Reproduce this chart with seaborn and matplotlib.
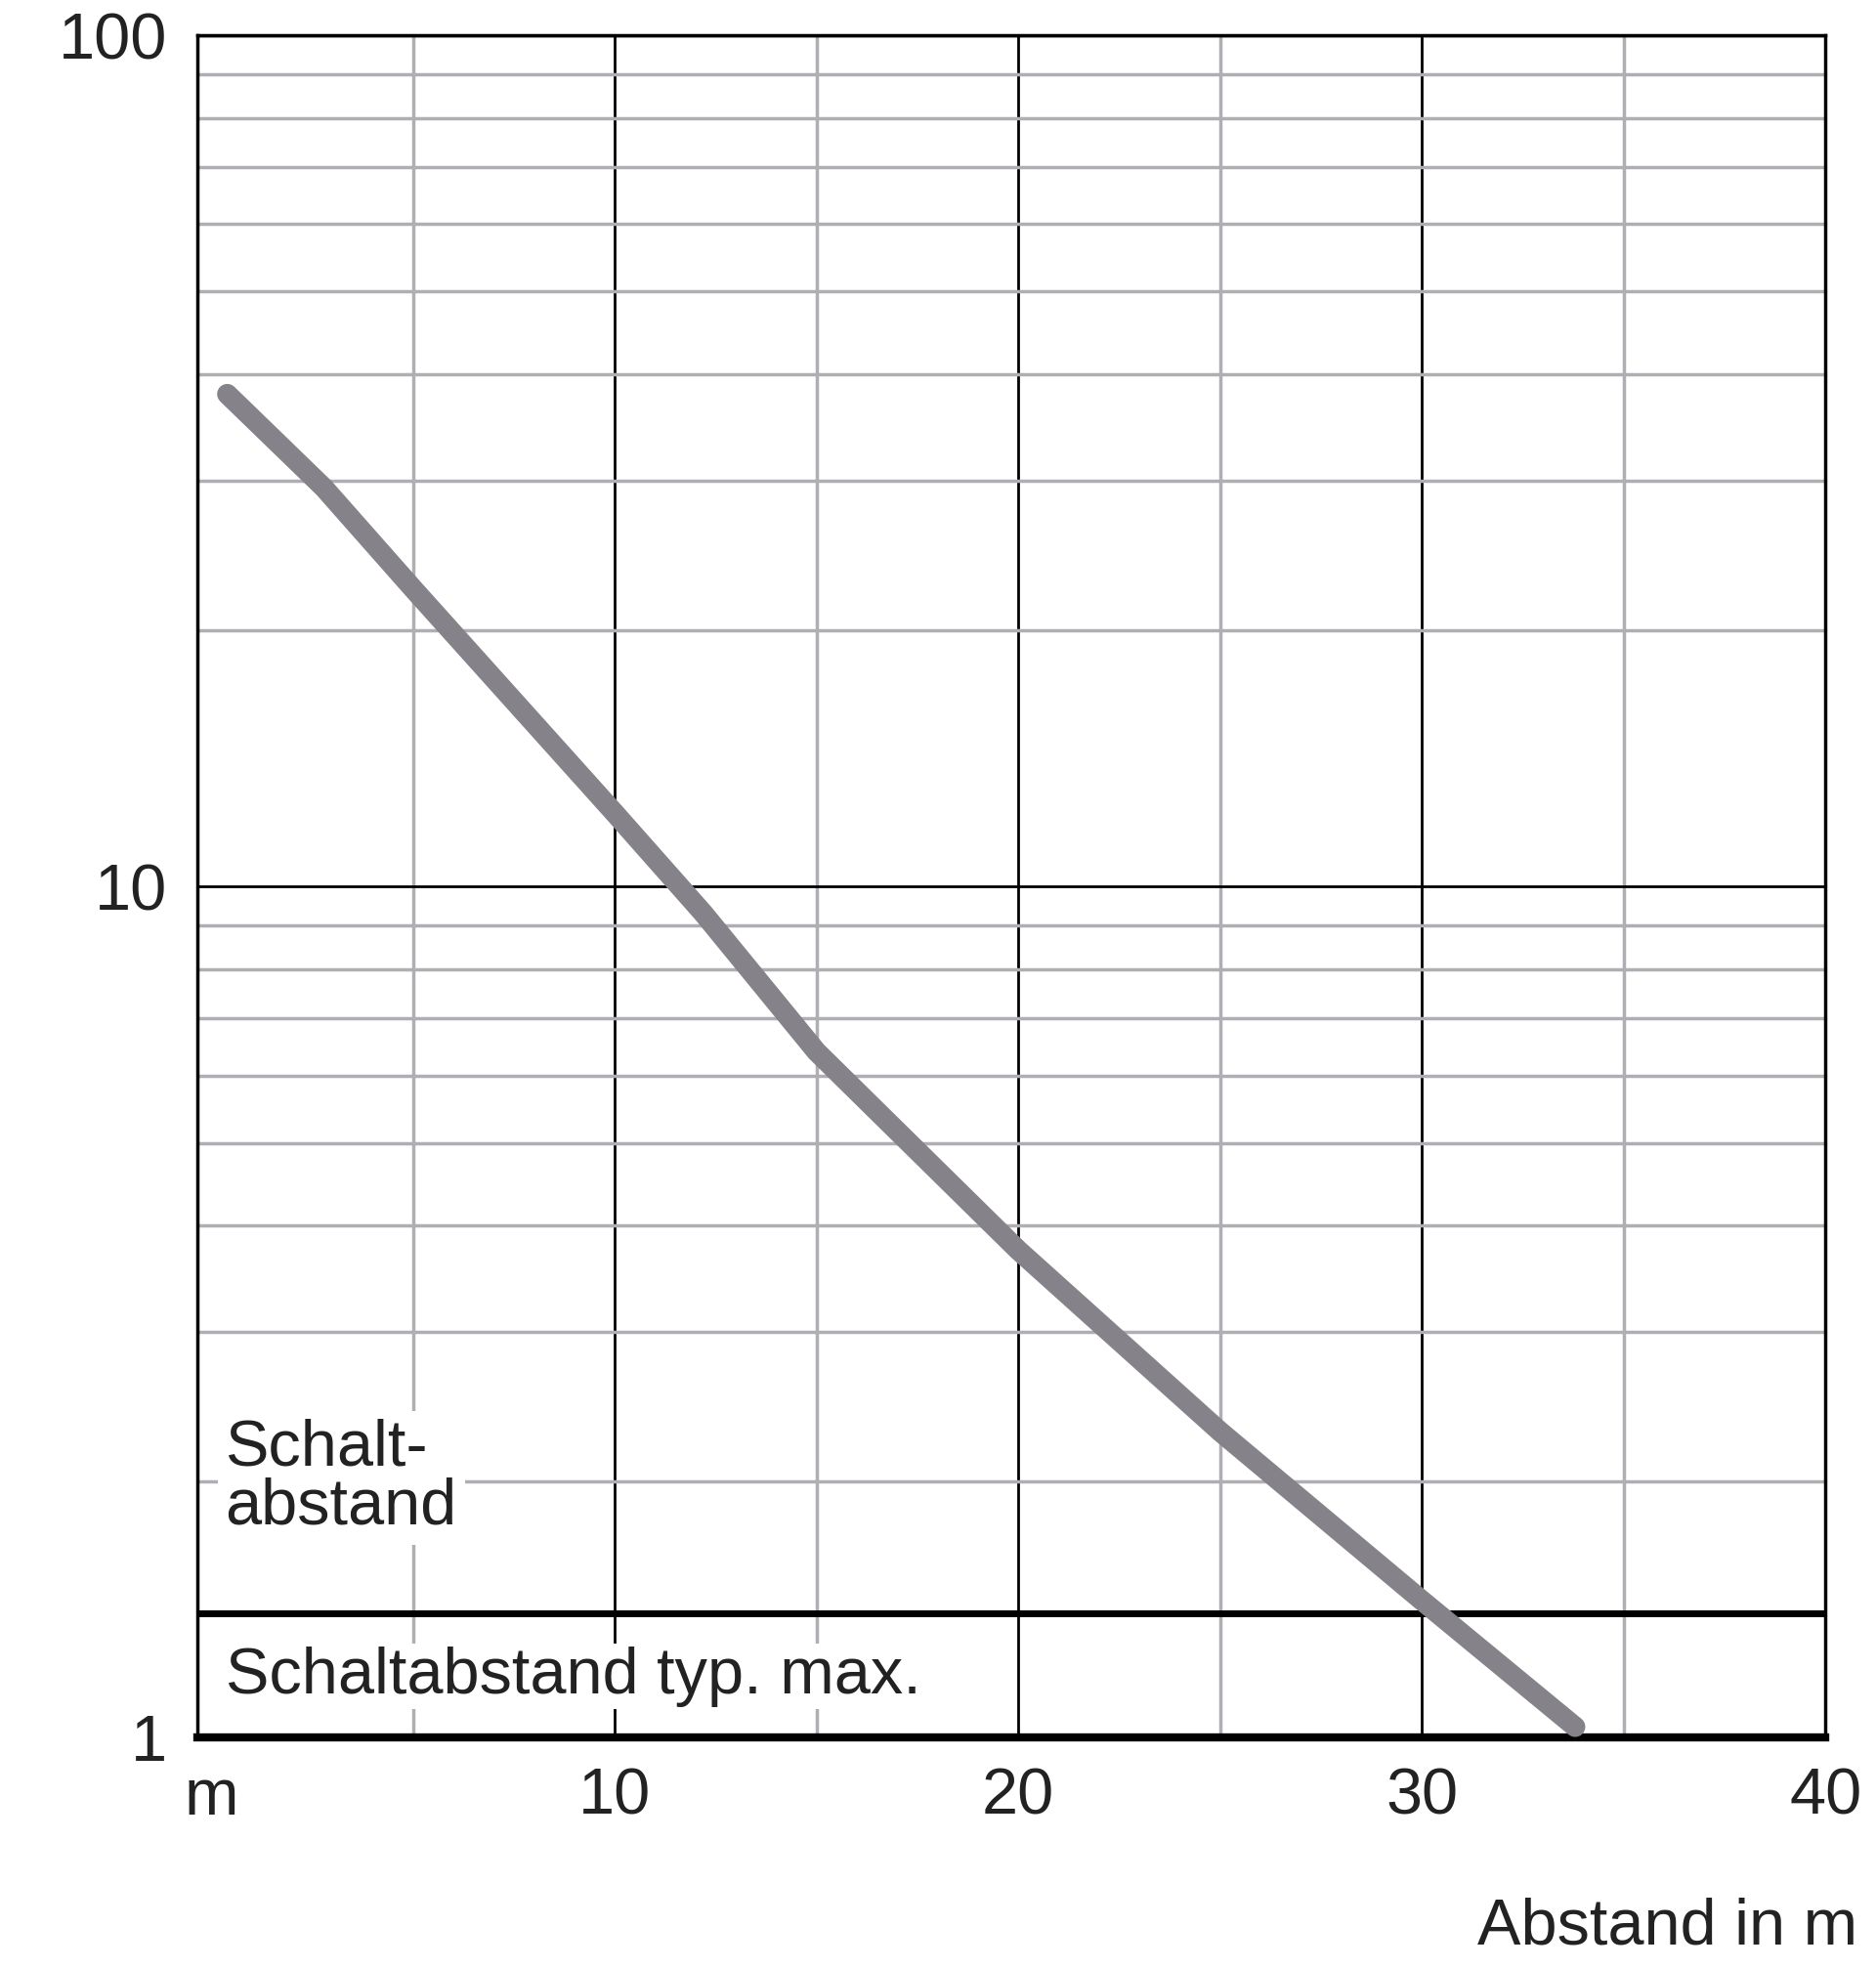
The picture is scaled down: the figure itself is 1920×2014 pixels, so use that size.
import matplotlib
matplotlib.use("Agg")
import matplotlib.pyplot as plt
import numpy as np
import pandas as pd
import seaborn as sns

# values
distance_m = [0.4, 2.8, 5.0, 10.0, 12.2, 15.0, 20.0, 25.0, 30.0, 33.8]
signal = [37.9, 29.4, 22.4, 12.2, 9.3, 6.4, 3.74, 2.29, 1.45, 1.03]
x_ticks = [0, 10, 20, 30, 40]
x_tick_labels = ["m", "10", "20", "30", "40"]
y_ticks = [1, 10, 100]
y_tick_labels = ["1", "10", "100"]
typ_max_level = 1.4

sns.set_style("white")
plt.rcParams["font.family"] = ["Liberation Sans", "DejaVu Sans"]

fig = plt.figure(figsize=(19.2, 20.14), dpi=100)
ax = fig.add_axes([0.105, 0.117, 0.868, 0.865])
ax.set_yscale("log")
ax.set_xlim(-0.35, 40)
ax.set_ylim(1, 100)

# grid
for v in [5, 15, 25, 35]:
    ax.axvline(v, color="#b0aeb3", lw=2.5, zorder=1)
for v in [10, 20, 30]:
    ax.axvline(v, color="black", lw=2, zorder=1)
for d in [1, 10]:
    for m in range(2, 10):
        ax.axhline(d * m, color="#b0aeb3", lw=2.5, zorder=1)
ax.axhline(10, color="black", lw=2, zorder=1)
ax.axhline(100, color="black", lw=2.5, zorder=1)
ax.axhline(typ_max_level, color="black", lw=5, zorder=3)

df = pd.DataFrame({"Abstand": distance_m, "Signal": signal})
sns.lineplot(data=df, x="Abstand", y="Signal", ax=ax, color="#858389",
             lw=15, solid_capstyle="round", zorder=4)

for s in ["left", "right", "top"]:
    ax.spines[s].set_linewidth(2.5)
    ax.spines[s].set_color("black")
ax.spines["bottom"].set_linewidth(6)
ax.spines["bottom"].set_color("black")

ax.set_xticks(x_ticks)
ax.set_xticklabels(x_tick_labels)
ax.set_yticks(y_ticks)
ax.set_yticklabels(y_tick_labels)
ax.yaxis.set_minor_locator(matplotlib.ticker.NullLocator())
ax.tick_params(axis="both", length=0, labelsize=48, colors="#222222", pad=22)
ax.set_xlabel("")
ax.set_ylabel("")

ax.text(0.35, 1.72, "Schalt-\nabstand", fontsize=48, color="#222222",
        va="bottom", ha="left", linespacing=0.95, zorder=2,
        bbox=dict(facecolor="white", edgecolor="none", pad=6))
ax.text(0.35, 1.18, "Schaltabstand typ. max.", fontsize=48, color="#222222",
        va="center", ha="left", zorder=2,
        bbox=dict(facecolor="white", edgecolor="none", pad=2))

fig.text(0.99, 0.005, "Abstand in m", fontsize=48, color="#222222",
         ha="right", va="bottom")

fig.savefig("out.png", dpi=100)
